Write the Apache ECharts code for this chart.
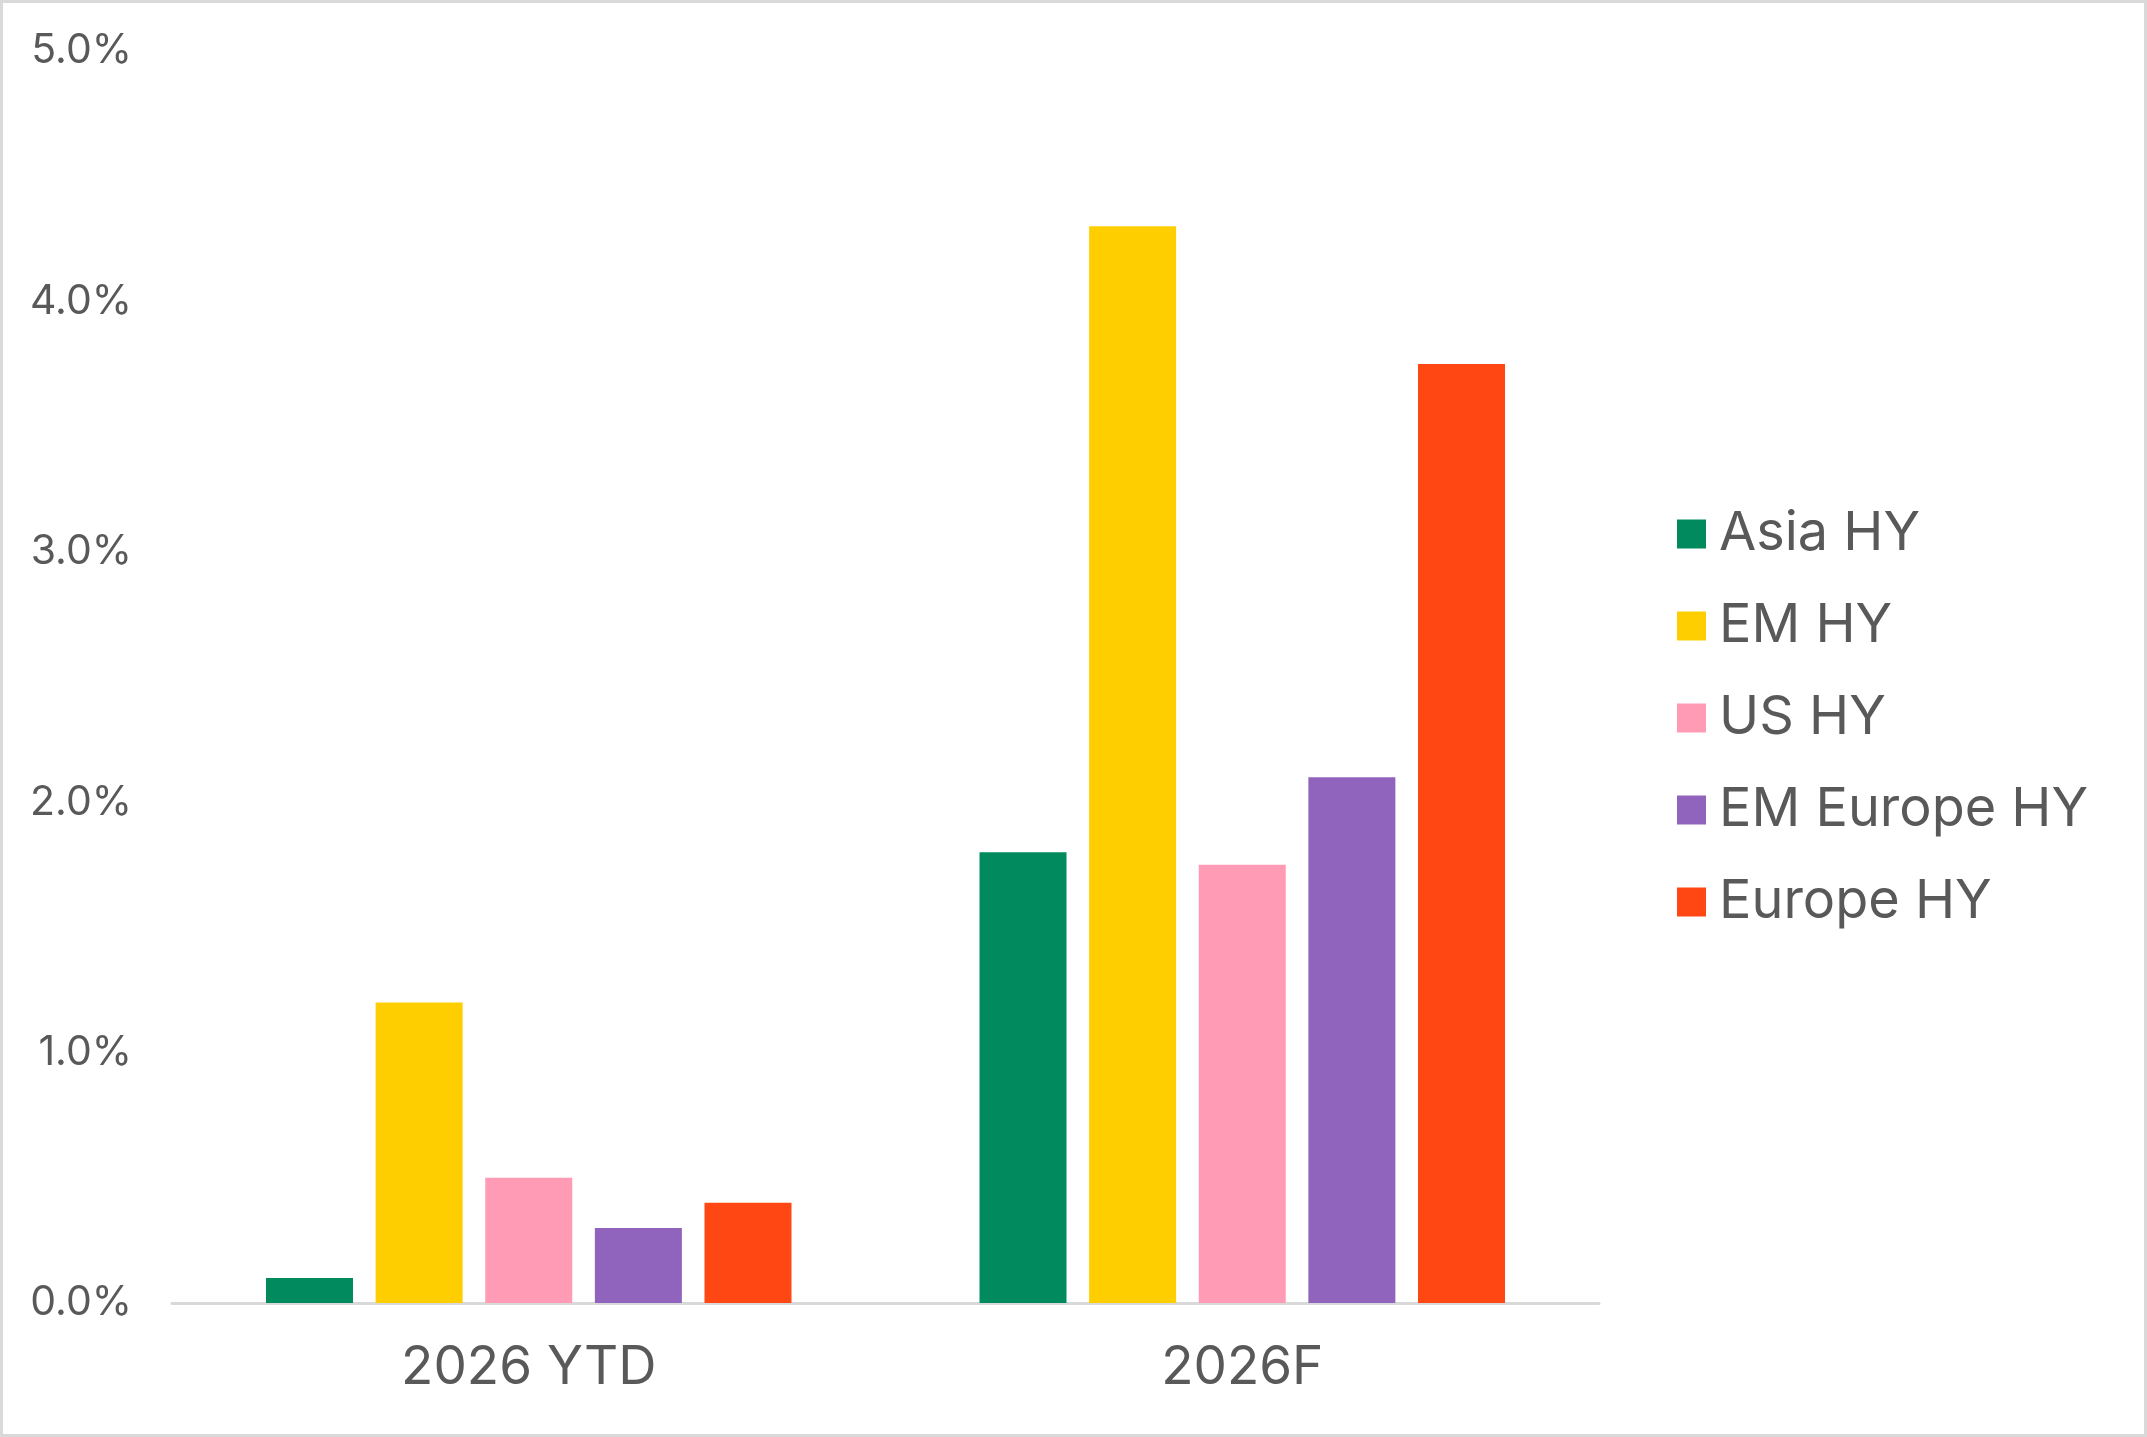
<html>
    <head>
        <meta charset="utf-8">
        <script src="https://cdn.jsdelivr.net/npm/echarts@6/dist/echarts.min.js"></script>
        <style>
            html, body { margin: 0; padding: 0; background: #fff; }
            #main { position: absolute; left: 0; top: 0; width: 2147px; height: 1437px; }
            #frame {
                position: absolute; left: 0; top: 0;
                width: 2147px; height: 1437px;
                box-sizing: border-box;
                border: 3px solid #d9d9d9;
                pointer-events: none;
            }
        </style>
    </head>
    <body>
        <div id="main"></div>
        <div id="frame"></div>
        <script>
            var categories = ['2026 YTD', '2026F'];
            var seriesNames = ['Asia HY', 'EM HY', 'US HY', 'EM Europe HY', 'Europe HY'];
            var asiaHY = [0.1, 1.8];
            var emHY = [1.2, 4.3];
            var usHY = [0.5, 1.75];
            var emEuropeHY = [0.3, 2.1];
            var europeHY = [0.4, 3.75];
            var colors = ['#008a5e', '#ffce00', '#ff9bb4', '#9063bc', '#ff4713'];

            var values = [asiaHY, emHY, usHY, emEuropeHY, europeHY];
            var font = 'Inter, "Noto Sans", sans-serif';
            var textColor = '#595959';

            var chart = echarts.init(document.getElementById('main'));

            chart.setOption({
                animation: false,
                color: colors,
                textStyle: { fontFamily: font },
                grid: { left: 172, right: 548, top: 51, bottom: 134 },
                legend: {
                    orient: 'vertical',
                    left: 1672,
                    top: 499,
                    itemWidth: 29,
                    itemHeight: 29,
                    itemGap: 32,
                    icon: 'rect',
                    data: seriesNames,
                    textStyle: {
                        fontFamily: font,
                        fontSize: 54,
                        color: textColor,
                        lineHeight: 60,
                        padding: [0, 0, 0, 8]
                    }
                },
                xAxis: {
                    type: 'category',
                    data: categories,
                    axisLine: { lineStyle: { color: '#d9d9d9', width: 3 } },
                    axisTick: { show: false },
                    axisLabel: {
                        fontFamily: font,
                        fontSize: 53,
                        color: textColor,
                        margin: 39
                    }
                },
                yAxis: {
                    type: 'value',
                    min: 0,
                    max: 5,
                    interval: 1,
                    splitLine: { show: false },
                    axisLine: { show: false },
                    axisTick: { show: false },
                    axisLabel: {
                        fontFamily: font,
                        fontSize: 41,
                        color: textColor,
                        margin: 40,
                        formatter: function (v) { return v.toFixed(1) + '%'; }
                    }
                },
                series: seriesNames.map(function (name, i) {
                    return {
                        name: name,
                        type: 'bar',
                        data: values[i],
                        barWidth: 87,
                        barGap: '26%'
                    };
                })
            });
        </script>
    </body>
</html>
